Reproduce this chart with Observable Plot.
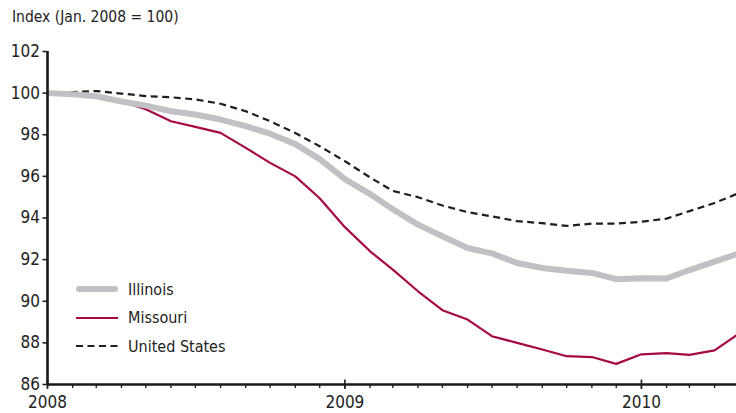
<!DOCTYPE html>
<html>
<head>
<meta charset="utf-8">
<script src="https://cdn.jsdelivr.net/npm/d3@7"></script>
<script src="https://cdn.jsdelivr.net/npm/@observablehq/plot@0.6"></script>
<style>
  html, body { margin: 0; padding: 0; background: #fff; }
  body { width: 736px; height: 413px; position: relative; overflow: hidden;
         font-family: "Liberation Sans Narrow", "DejaVu Sans Condensed", "Liberation Sans", sans-serif; color: #222; }
  #title { position: absolute; left: 12px; top: 7px; font-size: 15.5px; line-height: 20px; }
  #chart { position: absolute; left: 0; top: 36px; }
  #legend { position: absolute; left: 76px; top: 275px; font-size: 16px; }
  .row { display: flex; align-items: center; height: 28.5px; }
  .row svg { margin-right: 10px; }
</style>
</head>
<body>
<div id="title">Index (Jan. 2008 = 100)</div>
<div id="chart"></div>
<div id="legend"></div>
<script>
// Months from Jan 2008 to May 2010
const months = d3.utcMonth.range(new Date(Date.UTC(2008, 0, 1)), new Date(Date.UTC(2010, 5, 1)));
const illinois = [100, 99.95, 99.85, 99.6, 99.4, 99.13, 98.97, 98.73, 98.41, 98.05, 97.55, 96.83, 95.87,
  95.15, 94.42, 93.68, 93.12, 92.56, 92.3, 91.84, 91.6, 91.47, 91.36, 91.06, 91.1, 91.09, 91.5, 91.9, 92.3];
const missouri = [100, 99.9, 99.88, 99.6, 99.23, 98.65, 98.38, 98.09, 97.37, 96.65, 96.0, 94.95, 93.56,
  92.4, 91.52, 90.48, 89.57, 89.12, 88.32, 88.0, 87.68, 87.36, 87.32, 86.99, 87.45, 87.51, 87.42, 87.64, 88.45];
const unitedStates = [100, 100.05, 100.1, 99.98, 99.86, 99.8, 99.7, 99.49, 99.13, 98.65, 98.08, 97.45, 96.73,
  95.95, 95.3, 95.0, 94.6, 94.28, 94.08, 93.85, 93.75, 93.62, 93.73, 93.73, 93.82, 93.97, 94.33, 94.72, 95.2];
const yTicks = [86, 88, 90, 92, 94, 96, 98, 100, 102];
const yearTicks = [2008, 2009, 2010].map(y => new Date(Date.UTC(y, 0, 1)));
const xDomain = [new Date(Date.UTC(2008, 0, 1)), new Date(Date.UTC(2010, 3, 28))];

const series = [
  {name: "Missouri", values: missouri, stroke: "#a50b42", width: 2.2, dash: null},
  {name: "United States", values: unitedStates, stroke: "#1e1e1e", width: 2.2, dash: "7,4.5"},
  {name: "Illinois", values: illinois, stroke: "#c1c1c5", width: 6, dash: null}
];
const rows = series.flatMap(s => s.values.map((v, i) => ({date: months[i], value: v, name: s.name})));

const H = 377, mt = 15, mb = 29;
const lineMarks = series.map(s => Plot.line(rows.filter(r => r.name === s.name), {
  x: "date", y: "value", stroke: s.stroke, strokeWidth: s.width,
  strokeDasharray: s.dash, strokeLinejoin: "round", strokeLinecap: "butt", clip: true
}));

const chart = Plot.plot({
  width: 736, height: H,
  marginTop: mt, marginBottom: mb, marginLeft: 47, marginRight: 0,
  style: {fontFamily: "\"Liberation Sans Narrow\", \"DejaVu Sans Condensed\", sans-serif", fontSize: "17px", color: "#222", background: "#fff"},
  x: {type: "utc", domain: xDomain, axis: null},
  y: {domain: [86, 102], axis: null},
  marks: [
    ...lineMarks,
    Plot.axisY({ticks: yTicks, tickSize: 4.5, tickPadding: 3, tickFormat: d => String(d), label: null, fontSize: 17, strokeWidth: 1.6}),
    Plot.axisX({ticks: months, tickSize: 4, tickFormat: () => "", label: null, strokeWidth: 1.4}),
    Plot.axisX({ticks: yearTicks, tickSize: 5, tickPadding: 6, tickFormat: d => String(d.getUTCFullYear()), label: null, fontSize: 17, strokeWidth: 1.6}),
    Plot.ruleX(yearTicks, {x: d => d, stroke: "#222", strokeWidth: 1.6, insetTop: H - mt - mb - 4.5}),
    Plot.ruleY([yTicks[0]], {stroke: "#1a1a1a", strokeWidth: 2.4}),
    Plot.ruleX([xDomain[0]], {stroke: "#1a1a1a", strokeWidth: 2.6})
  ]
});
document.getElementById("chart").appendChild(chart);

// Legend
const legendOrder = ["Illinois", "Missouri", "United States"];
const legend = d3.select("#legend");
legendOrder.forEach(name => {
  const s = series.find(d => d.name === name);
  const row = legend.append("div").attr("class", "row");
  const sv = row.append("svg").attr("width", 42).attr("height", 10);
  sv.append("line").attr("x1", s.width > 3 ? 3 : 0).attr("x2", s.width > 3 ? 39 : 42).attr("y1", 5).attr("y2", 5)
    .attr("stroke", s.stroke).attr("stroke-width", s.width)
    .attr("stroke-linecap", s.width > 3 ? "round" : "butt")
    .attr("stroke-dasharray", s.dash);
  row.append("span").text(name);
});
</script>
</body>
</html>
